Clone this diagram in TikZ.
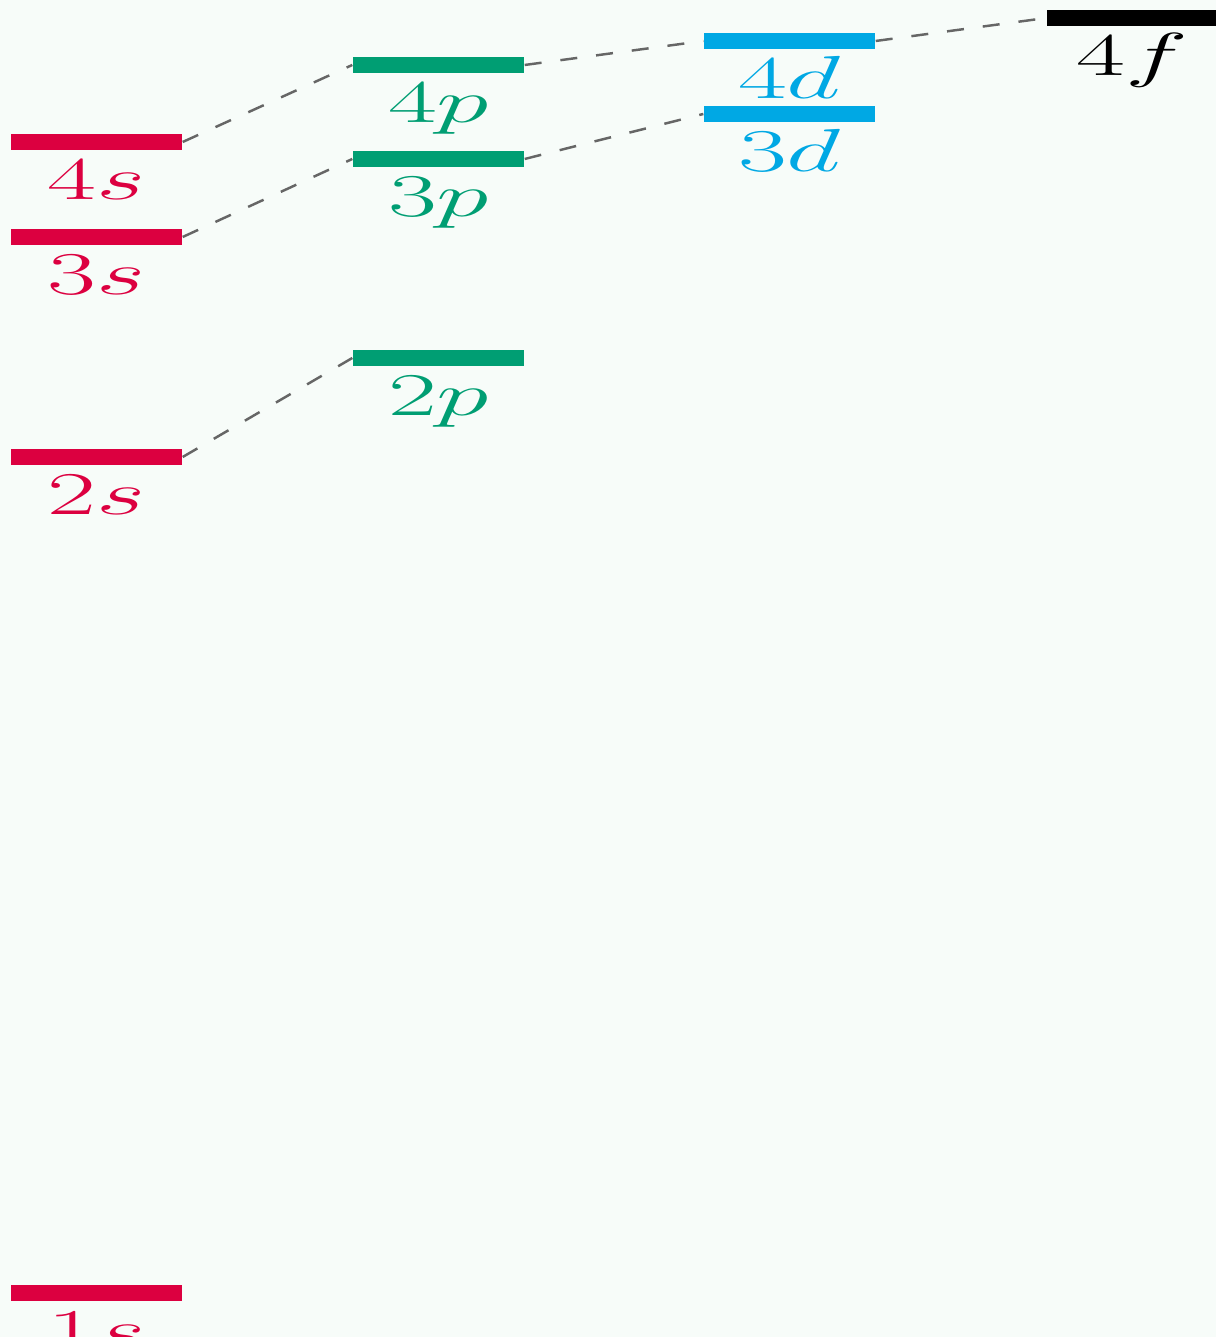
\documentclass[tikz,border=0pt]{standalone}
\usepackage{amsmath,amssymb}
\usepackage{tikz}
\usepackage{xcolor}
\definecolor{bgtint}{RGB}{247,252,249}
\definecolor{sred}{RGB}{220,0,64}
\definecolor{pgreen}{RGB}{0,158,115}
\definecolor{dblue}{RGB}{0,168,228}

\begin{document}
\begin{tikzpicture}[
  lvl/.style={rectangle,inner sep=0pt,minimum width=1.71cm,minimum height=0.16cm,fill=#1},
  lvllbl/.style={anchor=base,inner sep=0pt,text=#1,xscale=1.75,font=\fontsize{18}{20}\selectfont},
  link/.style={black!60,line width=0.7pt,dash pattern=on 0.17cm off 0.19cm}]
\fill[bgtint] (0,0) rectangle (12.16,13.37);
\useasboundingbox (0,0) rectangle (12.16,13.37);
% s levels
\node[lvl=sred] (s1) at (0.965,0.44) {};
\node[lvl=sred] (s2) at (0.965,8.80) {};
\node[lvl=sred] (s3) at (0.965,11.00) {};
\node[lvl=sred] (s4) at (0.965,11.95) {};
% p levels
\node[lvl=pgreen] (p2) at (4.385,9.79) {};
\node[lvl=pgreen] (p3) at (4.385,11.78) {};
\node[lvl=pgreen] (p4) at (4.385,12.72) {};
% d and f levels
\node[lvl=dblue] (d3) at (7.895,12.23) {};
\node[lvl=dblue] (d4) at (7.895,12.96) {};
\node[lvl=black] (f4) at (11.325,13.19) {};
% labels
\node[lvllbl=sred] (l1s) at ([yshift=-0.58cm]s1.center) {$1s$};
\node[lvllbl=sred] (l2s) at ([yshift=-0.58cm]s2.center) {$2s$};
\node[lvllbl=sred] (l3s) at ([yshift=-0.58cm]s3.center) {$3s$};
\node[lvllbl=sred] (l4s) at ([yshift=-0.58cm]s4.center) {$4s$};
\node[lvllbl=pgreen] (l2p) at ([yshift=-0.58cm]p2.center) {$2p$};
\node[lvllbl=pgreen] (l3p) at ([yshift=-0.58cm]p3.center) {$3p$};
\node[lvllbl=pgreen] (l4p) at ([yshift=-0.58cm]p4.center) {$4p$};
\node[lvllbl=dblue] (l3d) at ([yshift=-0.58cm]d3.center) {$3d$};
\node[lvllbl=dblue] (l4d) at ([yshift=-0.58cm]d4.center) {$4d$};
\node[lvllbl=black] (l4f) at ([yshift=-0.58cm]f4.center) {$4f$};
% dashed links
\draw[link] (s2.east) -- (p2.west);
\draw[link] (s3.east) -- (p3.west);
\draw[link] (s4.east) -- (p4.west);
\draw[link] (p3.east) -- (d3.west);
\draw[link] (p4.east) -- (d4.west);
\draw[link] (d4.east) -- (f4.west);
\end{tikzpicture}
\end{document}
